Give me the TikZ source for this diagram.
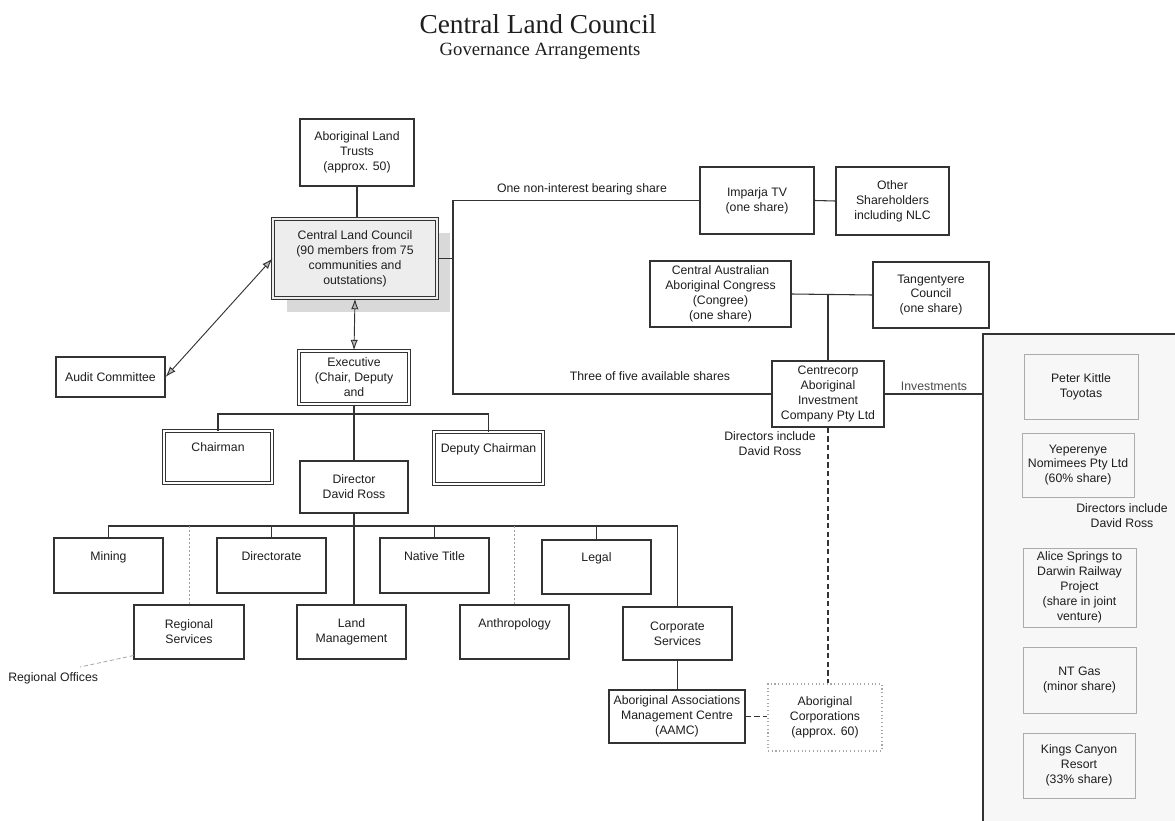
\documentclass[tikz,border=0pt]{standalone}
\usepackage{fontspec}
\setmainfont{Liberation Sans}
\newfontfamily\titlefont{Liberation Serif}
\usetikzlibrary{arrows.meta}
\definecolor{ink}{HTML}{1E1E1E}
\definecolor{frm}{HTML}{333333}
\newcommand{\boxfont}{\fontsize{9.2}{11.2}\selectfont}
% \placebox{style}{name}{x1}{y1}{x2}{y2}{text}
\newcommand{\placebox}[7]{%
  \pgfmathsetmacro\pbcx{(#3+#5)/2}%
  \pgfmathsetmacro\pbcy{(#4+#6)/2}%
  \pgfmathsetmacro\pbww{(#5-#3)*0.75}%
  \pgfmathsetmacro\pbhh{(#6-#4)*0.75}%
  \node[#1,minimum width=\pbww pt,minimum height=\pbhh pt] (#2) at (\pbcx,\pbcy) {#7};}
\begin{document}
\begin{tikzpicture}[x=0.75pt,y=-0.75pt,
  bx/.style={draw=frm,line width=0.8pt,fill=white,inner sep=0pt,align=center,font=\boxfont,text=ink},
  dbl/.style={bx,double=white,double distance=1.5pt,line width=0.75pt},
  clcbox/.style={bx,fill=gray!14,double=gray!14,double distance=1.6pt,line width=0.8pt},
  ibx/.style={bx,draw=gray!65,line width=0.6pt,fill=none},
  dotbox/.style={bx,draw=gray!70,dotted,line width=0.8pt,fill=none},
  lbl/.style={inner sep=0pt,align=center,font=\boxfont,text=ink},
  ln/.style={draw=frm,line width=0.8pt},
  thinln/.style={draw=gray!75,line width=0.5pt,dash pattern=on 2pt off 1pt},
  dashln/.style={draw=frm,line width=0.8pt,dash pattern=on 4pt off 2.5pt},
  arr/.style={draw=frm,line width=0.7pt,{Latex[length=8pt,width=5.5pt,fill=gray!55]}-{Latex[length=8pt,width=5.5pt,fill=gray!55]}}
]
\useasboundingbox (0,0) rectangle (1175,821);
\fill[white] (0,0) rectangle (1175,821);

% title
\node[font=\titlefont\fontsize{20.5}{24}\selectfont,text=ink] (title) at (538,24) {Central Land Council};
\node[font=\titlefont\fontsize{14}{16}\selectfont,text=ink] (subtitle) at (540,51) {Governance Arrangements};

% investments frame
\coordinate (invtl) at (983,334);
\fill[gray!6] (983,334) rectangle (1175,821);
\draw[ln] (983,821) -- (invtl) -- (1175,334);

% shadow of CLC
\fill[gray!30] (287,233) rectangle (450,312);

% left chart
\placebox{bx}{alt}{300}{119}{414}{186}{Aboriginal Land\\Trusts\\(approx. 50)}
\placebox{clcbox}{clc}{273}{219}{437}{298}{Central Land Council\\(90 members from 75\\communities and\\outstations)}
\placebox{bx}{audit}{56}{357}{165}{397}{Audit Committee}
\placebox{dbl}{exec}{299}{351}{409}{404}{Executive\\(Chair, Deputy\\and}
\placebox{dbl}{chair}{164}{431}{272}{483}{Chairman\\[3pt]\mbox{}}
\placebox{dbl}{deputy}{434}{432}{543}{484}{Deputy Chairman\\[3pt]\mbox{}}
\placebox{bx}{dir}{300}{461}{408}{513}{Director\\David Ross}

\placebox{bx}{mining}{54}{538}{163}{593}{Mining\\[3pt]\mbox{}}
\placebox{bx}{dirate}{217}{538}{326}{593}{Directorate\\[3pt]\mbox{}}
\placebox{bx}{native}{380}{538}{489}{593}{Native Title\\[3pt]\mbox{}}
\placebox{bx}{legal}{542}{540}{651}{594}{Legal\\[3pt]\mbox{}}

\placebox{bx}{regsvc}{134}{605}{244}{659}{Regional\\Services}
\placebox{bx}{landm}{297}{605}{406}{659}{Land\\Management}
\placebox{bx}{anthro}{460}{605}{569}{659}{Anthropology\\[2pt]\mbox{}}
\placebox{bx}{corp}{623}{607}{732}{660}{Corporate\\Services}
\placebox{bx}{aamc}{609}{690}{745}{743}{Aboriginal Associations\\Management Centre\\(AAMC)}
\placebox{dotbox}{abcorp}{768}{684}{882}{751}{Aboriginal\\Corporations\\(approx. 60)}
\node[lbl,anchor=west] (regoff) at (8,678) {Regional Offices};
\coordinate (roend) at (80,667);

% shareholding part
\placebox{bx}{imparja}{700}{167}{814}{234}{Imparja TV\\(one share)}
\placebox{bx}{other}{836}{167}{949}{235}{Other\\Shareholders\\including NLC}
\placebox{bx}{caac}{650}{261}{791}{327}{Central Australian\\Aboriginal Congress\\(Congree)\\(one share)}
\placebox{bx}{tang}{873}{262}{989}{328}{Tangentyere\\Council\\(one share)}
\placebox{bx}{ccorp}{772}{361}{884}{427}{Centrecorp\\Aboriginal\\Investment\\Company Pty Ltd}

\node[lbl] (onenon) at (582,189) {One non-interest bearing share};
\node[lbl] (three) at (650,376) {Three of five available shares};
\node[lbl] (dirinc) at (770,444) {Directors include\\David Ross};
\node[lbl,text=ink!80] (invest) at (934,386) {Investments};

% investments
\placebox{ibx}{kittle}{1024}{354}{1138}{419}{Peter Kittle\\Toyotas}
\placebox{ibx}{yep}{1022}{433}{1134}{497}{Yeperenye\\Nomimees Pty Ltd\\(60\% share)}
\node[lbl] (dirinc2) at (1122,516) {Directors include\\David Ross};
\placebox{ibx}{alice}{1023}{548}{1136}{627}{Alice Springs to\\Darwin Railway\\Project\\(share in joint\\venture)}
\placebox{ibx}{ntgas}{1023}{647}{1136}{713}{NT Gas\\(minor share)}
\placebox{ibx}{kings}{1023}{733}{1135}{798}{Kings Canyon\\Resort\\(33\% share)}

% coordinates for frame and buses
\coordinate (fA) at (453,200.5);
\coordinate (fB) at (453,394);
\coordinate (b1) at (0,414);
\coordinate (b2) at (0,526);

% connectors - shares
\draw[ln] (imparja.west) -- (fA) -- (fB) -- (ccorp.west);
\draw[ln] (clc.east) -- (clc.east -| fA);
\draw[ln] (imparja.east) -- (other.west);
\draw[ln] (caac.east) -- (tang.west);
\draw[ln] (ccorp.north |- caac.east) -- (ccorp.north);
\draw[ln] (ccorp.east) -- (ccorp.east -| invtl);
\draw[dashln] (ccorp.south) -- (ccorp.south |- abcorp.north);
\draw[dashln] (aamc.east) -- (abcorp.west |- aamc.east);

% connectors - left chart
\draw[ln] (alt.south) -- (alt.south |- clc.north);
\draw[arr] (audit.east) -- (clc.west);
\draw[arr] (clc.south) -- (exec.north);
\draw[ln] (chair.north) |- (deputy.north |- b1) -- (deputy.north);
\draw[ln] (exec.south) -- (dir.north);
\draw[ln] (mining.north) |- (corp.north |- b2) -- (corp.north);
\draw[ln] (dir.south) -- (dir.south |- landm.north);
\draw[ln] (dirate.north) -- (dirate.north |- b2);
\draw[ln] (native.north) -- (native.north |- b2);
\draw[ln] (legal.north) -- (legal.north |- b2);
\draw[thinln] (regsvc.north) -- (regsvc.north |- b2);
\draw[thinln] (anthro.north) -- (anthro.north |- b2);
\draw[ln] (corp.south) -- (corp.south |- aamc.north);
\draw[draw=gray!70,line width=0.6pt,dash pattern=on 3pt off 2pt] ([yshift=3pt]regsvc.south west) -- (roend);
\end{tikzpicture}
\end{document}
